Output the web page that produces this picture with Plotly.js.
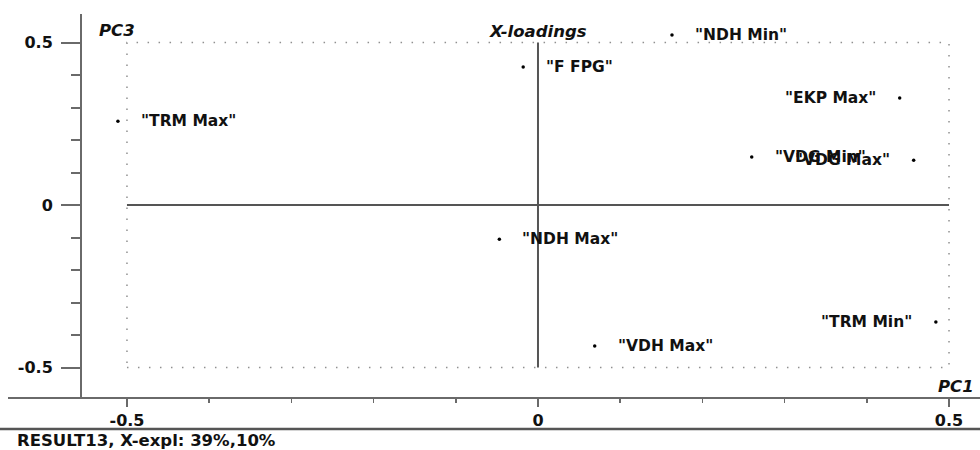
<!DOCTYPE html>
<html>
<head>
<meta charset="utf-8">
<script src="https://cdn.plot.ly/plotly-3.0.1.min.js"></script>
<style>html,body{margin:0;padding:0;background:#fff;}</style>
</head>
<body>
<div id="chart" style="width:980px;height:450px;"></div>
<script>
// ---- data ----
const labels = ['"TRM Max"', '"F FPG"', '"NDH Min"', '"EKP Max"', '"VDG Min"', '"VDG Max"', '"NDH Max"', '"VDH Max"', '"TRM Min"'];
const pc1 = [-0.511, -0.018, 0.163, 0.440, 0.260, 0.457, -0.047, 0.069, 0.484];
const pc3 = [0.258, 0.425, 0.523, 0.329, 0.148, 0.138, -0.105, -0.434, -0.360];
const xTickVals = [-0.5, 0, 0.5];
const xTickText = ['-0.5', '0', '0.5'];
const yTickVals = [-0.5, 0, 0.5];
const yTickText = ['-0.5', '0', '0.5'];
const plotTitle = 'X-loadings';
const xTitle = 'PC1';
const yTitle = 'PC3';
const footerText = 'RESULT13, X-expl: 39%,10%';

// ---- styling (not data) ----
const leftLabels = new Set(['"EKP Max"', '"VDG Max"', '"TRM Min"']);
const FONT = 'DejaVu Sans, Arial, sans-serif';
const axisCol = '#6a6a6a';
const txtCol = '#111';

const trace = {
  x: pc1, y: pc3, type: 'scatter', mode: 'markers',
  marker: {size: 3.5, color: '#000'},
  hoverinfo: 'skip', showlegend: false
};

const annotations = labels.map((t, i) => {
  const left = leftLabels.has(t);
  return {
    x: pc1[i], y: pc3[i], xref: 'x', yref: 'y', text: t, showarrow: false,
    xanchor: left ? 'right' : 'left', yanchor: 'middle',
    xshift: left ? -22 : 21, yshift: 0,
    font: {family: FONT, size: 15.5, color: txtCol, weight: 700}
  };
});

const italic = {family: FONT, size: 16.5, color: txtCol, weight: 700, style: 'italic'};
annotations.push(
  {x: 0, y: 0.535, xref: 'x', yref: 'y', text: plotTitle, showarrow: false,
   xanchor: 'center', yanchor: 'middle', font: italic},
  {x: -0.537, y: 0.538, xref: 'x', yref: 'y', text: yTitle, showarrow: false,
   xanchor: 'left', yanchor: 'middle', font: italic},
  {x: 0.533, y: -0.557, xref: 'x', yref: 'y', text: xTitle, showarrow: false,
   xanchor: 'right', yanchor: 'middle', font: italic},
  {x: -0.0746, y: -0.1107, xref: 'paper', yref: 'paper', text: footerText, showarrow: false,
   xanchor: 'left', yanchor: 'middle', font: {family: FONT, size: 16.5, color: txtCol, weight: 700}}
);

const shapes = [
  // dotted frame
  {type: 'rect', xref: 'x', yref: 'y', x0: -0.5, x1: 0.5, y0: -0.5, y1: 0.5,
   line: {color: '#909090', width: 1.5, dash: '1.5px,9.5px'}, layer: 'below'},
  // zero lines
  {type: 'line', xref: 'x', yref: 'y', x0: -0.5, x1: 0.5, y0: 0, y1: 0,
   line: {color: '#555', width: 2}},
  {type: 'line', xref: 'x', yref: 'y', x0: 0, x1: 0, y0: -0.5, y1: 0.5,
   line: {color: '#555', width: 2}},
  // x axis line extended left
  {type: 'line', xref: 'paper', yref: 'paper', x0: -0.0824, x1: 1, y0: 0, y1: 0,
   line: {color: axisCol, width: 2}},
  // separator line
  {type: 'line', xref: 'paper', yref: 'paper', x0: -0.1, x1: 1.01, y0: -0.0808, y1: -0.0808,
   line: {color: '#555', width: 2.5}}
];

const layout = {
  width: 980, height: 450,
  margin: {l: 82, r: 0, t: 14, b: 52, pad: 0},
  paper_bgcolor: '#fff', plot_bgcolor: '#fff',
  showlegend: false,
  xaxis: {
    range: [-0.5547, 0.5377], showgrid: false, zeroline: false,
    showline: false, ticks: 'outside', ticklen: 8, tickwidth: 2, tickcolor: axisCol,
    tickvals: xTickVals, ticktext: xTickText, ticklabelstandoff: 0,
    tickfont: {family: FONT, size: 16, color: txtCol, weight: 700},
    minor: {dtick: 0.1, tick0: 0, ticks: 'outside', ticklen: 4, tickwidth: 1.5, tickcolor: axisCol, showgrid: false},
    fixedrange: true
  },
  yaxis: {
    range: [-0.5938, 0.5877], showgrid: false, zeroline: false,
    showline: true, linecolor: axisCol, linewidth: 2,
    ticks: 'outside', ticklen: 19, tickwidth: 2, tickcolor: axisCol,
    tickvals: yTickVals, ticktext: yTickText, ticklabelstandoff: 5,
    tickfont: {family: FONT, size: 16, color: txtCol, weight: 700},
    minor: {dtick: 0.1, tick0: 0, ticks: 'outside', ticklen: 9, tickwidth: 2, tickcolor: axisCol, showgrid: false},
    fixedrange: true
  },
  shapes: shapes,
  annotations: annotations
};

Plotly.newPlot('chart', [trace], layout, {displayModeBar: false, staticPlot: true});
</script>
</body>
</html>
